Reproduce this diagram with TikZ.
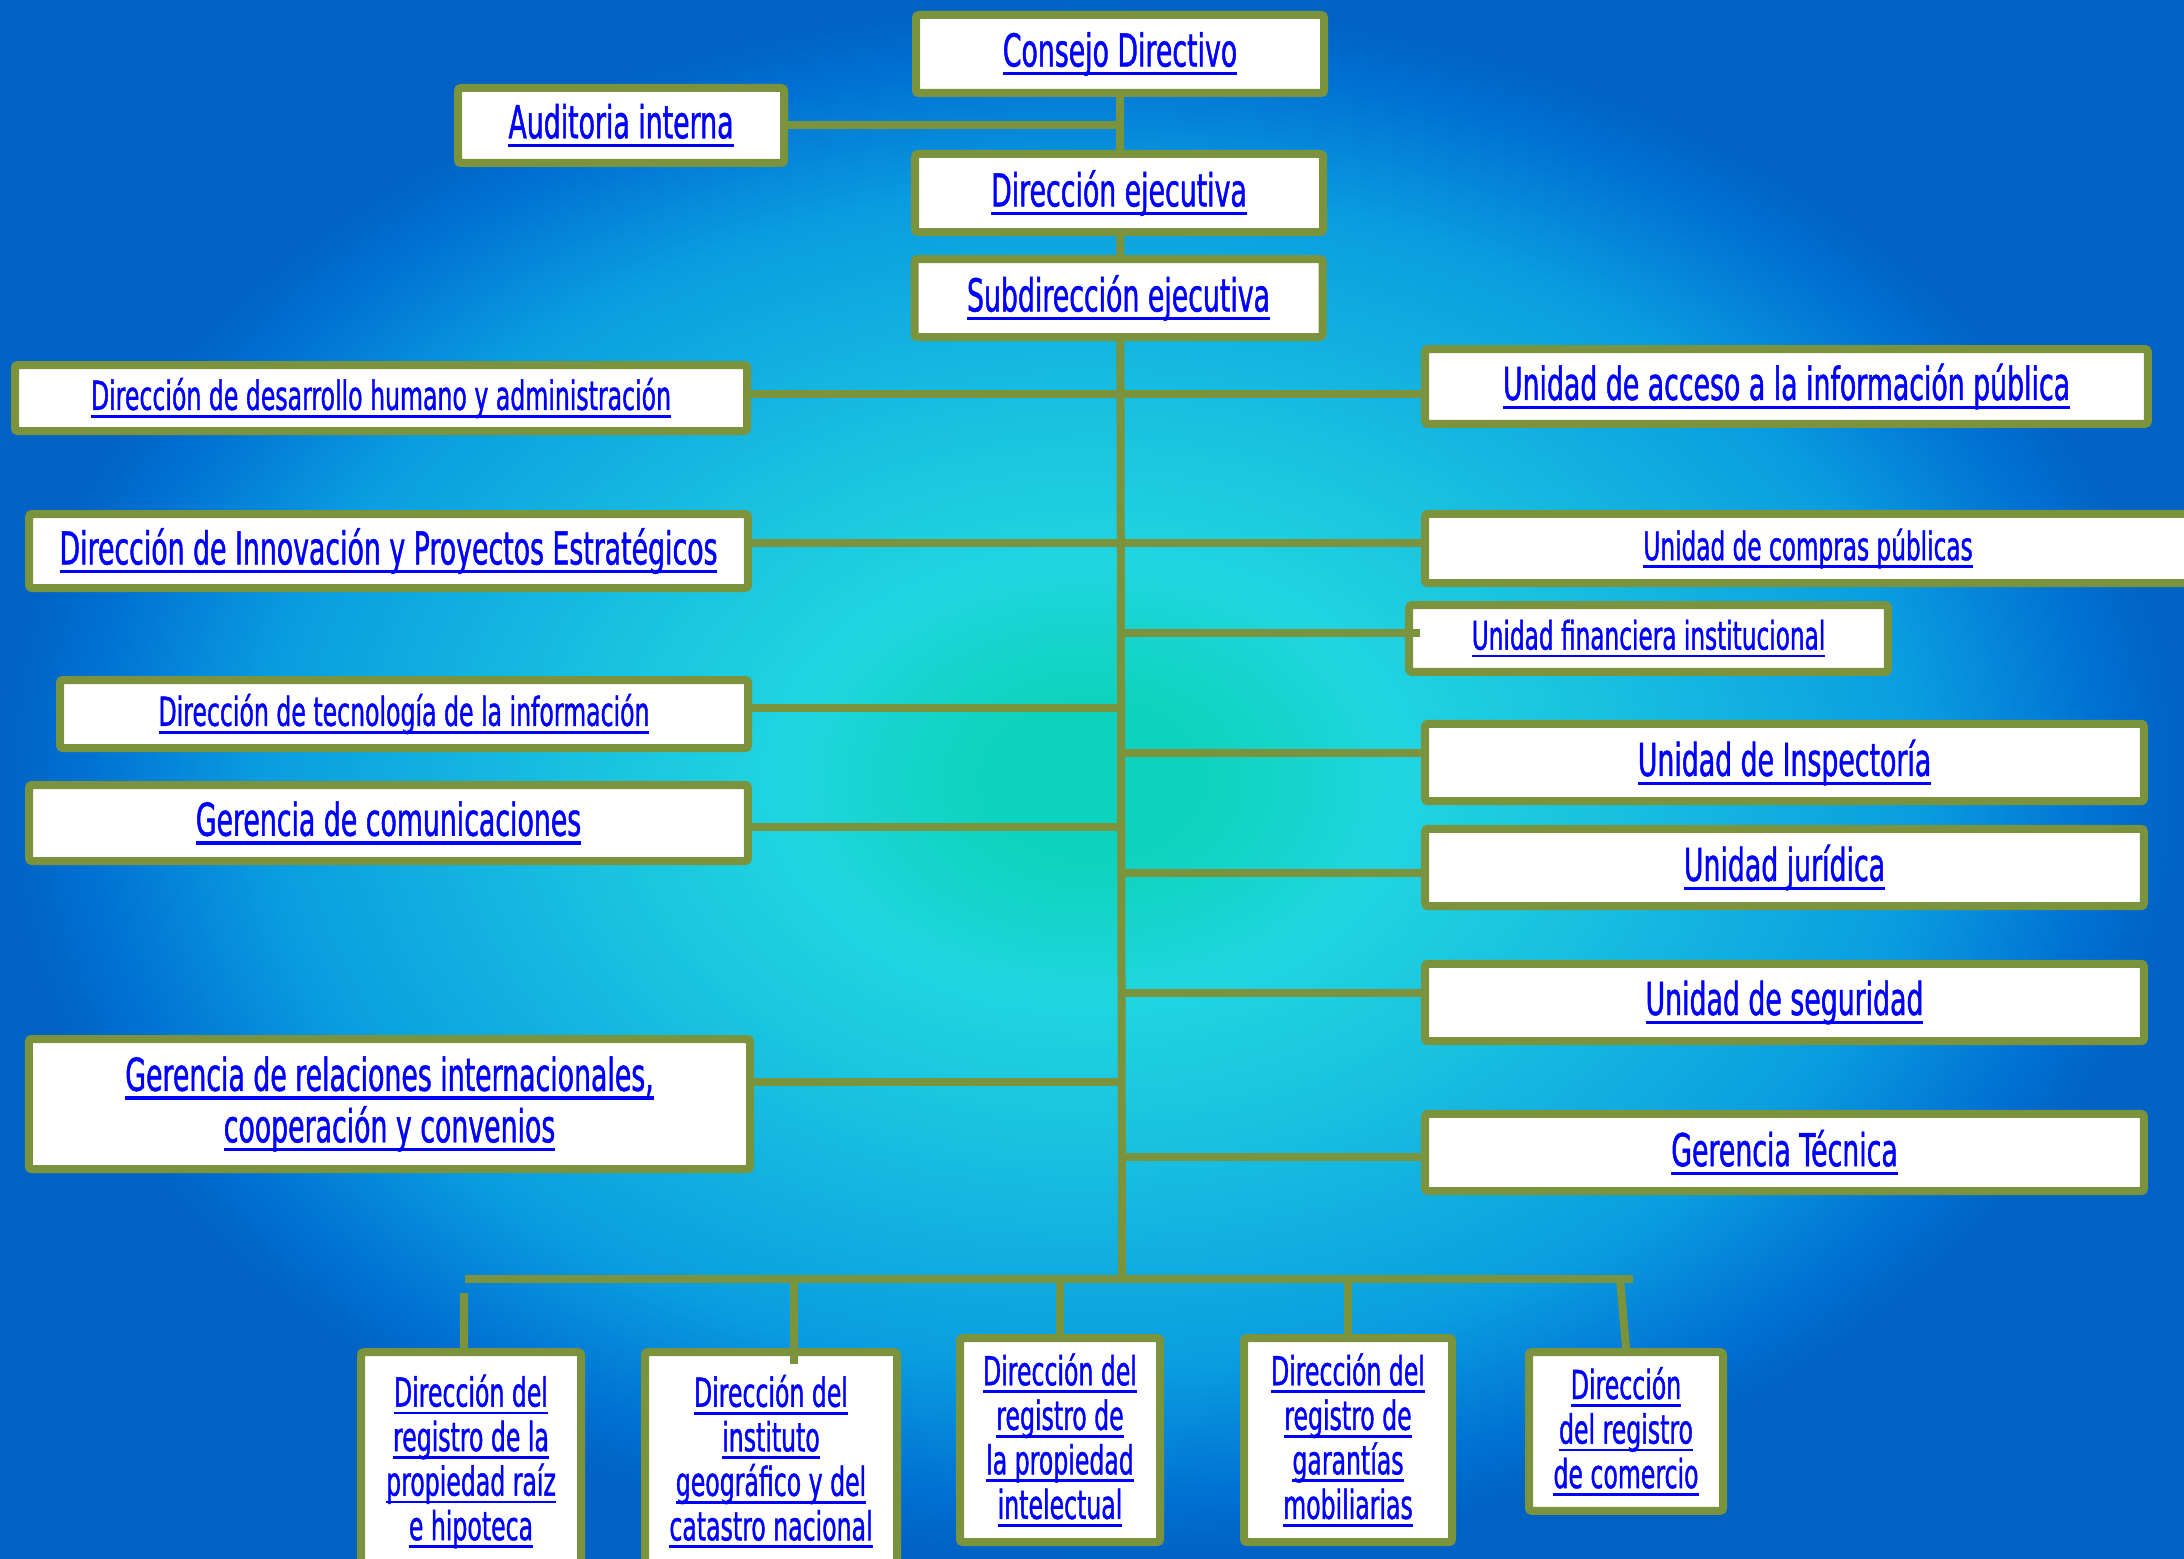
\documentclass[tikz,border=0pt]{standalone}
\usepackage{fontspec}
\setmainfont{DejaVu Sans}[FakeStretch=0.59, FakeBold=1]

\definecolor{framegreen}{HTML}{7B933D}
\definecolor{txtblue}{HTML}{0000FF}
\definecolor{bgteal}{HTML}{0ED3BC}
\definecolor{bgcyan}{HTML}{20D5E0}
\definecolor{bglight}{HTML}{18C0E0}
\definecolor{bgmid}{HTML}{0A9CE0}
\definecolor{bgblue}{HTML}{0072D2}
\definecolor{bgdeep}{HTML}{0062C4}

\pgfdeclareradialshading{orgbg}{\pgfpoint{0bp}{0bp}}{color(0bp)=(bgteal); color(2.5bp)=(bgteal); color(7bp)=(bgcyan); color(12bp)=(bglight); color(19bp)=(bgmid); color(23bp)=(bgblue); color(25bp)=(bgdeep); color(50bp)=(bgdeep)}

\pgfdeclarelayer{back}
\pgfdeclarelayer{lines}
\pgfsetlayers{back,lines,main}

% underlined link text
\newcommand{\lnk}[1]{\leavevmode\setbox0\hbox{#1}\rlap{\rule[-0.36ex]{\wd0}{0.13ex}}\box0}

\tikzset{every picture/.style={line width=0.75pt}}
\tikzset{
  unit/.style={draw=framegreen, fill=white, line width=6pt, rounded corners=2pt,
    inner sep=0pt, text=txtblue, align=center},
  conn/.style={draw=framegreen, line width=6pt},
  t34/.style={font=\fontsize{34}{38.6}\selectfont},
  t30/.style={font=\fontsize{30}{33.4}\selectfont},
  t29/.style={font=\fontsize{29.5}{33}\selectfont}
}

\begin{document}
\begin{tikzpicture}[x=0.75pt,y=0.75pt,yscale=-1,xscale=1]
\useasboundingbox (0,0) rectangle (2184,1559);

% Top boxes
\node[unit, t34, minimum width=306pt, minimum height=58.5pt] (consejo) at (1120,54) {\lnk{Consejo Directivo}};
\node[unit, t34, minimum width=244.5pt, minimum height=56.25pt] (auditoria) at (621,125.5) {\lnk{Auditoria interna}};
\node[unit, t34, minimum width=306pt, minimum height=58.5pt] (direjec) at (1119,193) {\lnk{Dirección ejecutiva}};
\node[unit, t34, minimum width=306pt, minimum height=58.5pt] (subdir) at (1118.5,298) {\lnk{Subdirección ejecutiva}};

% Left column
\node[unit, t30, minimum width=549pt, minimum height=49.5pt] (desarrollo) at (381,398) {\lnk{Dirección de desarrollo humano y administración}};
\node[unit, t34, minimum width=539pt, minimum height=55.5pt] (innovacion) at (388.5,551) {\lnk{Dirección de Innovación y Proyectos Estratégicos}};
\node[unit, t30, minimum width=516pt, minimum height=51pt] (tecnologia) at (404,714) {\lnk{Dirección de tecnología de la información}};
\node[unit, t34, minimum width=539pt, minimum height=57pt] (comunicaciones) at (388.5,823) {\lnk{Gerencia de comunicaciones}};
\node[unit, t34, minimum width=541pt, minimum height=97.5pt] (relaciones) at (389.5,1104) {\lnk{Gerencia de relaciones internacionales,}\\ \lnk{cooperación y convenios}};

% Right column
\node[unit, t34, minimum width=542pt, minimum height=56pt] (acceso) at (1786.5,386.5) {\lnk{Unidad de acceso a la información pública}};
\node[unit, t29, minimum width=574.5pt, minimum height=52pt] (compras) at (1808,548.5) {\lnk{Unidad de compras públicas}};
\node[unit, t29, minimum width=359pt, minimum height=50pt] (financiera) at (1648.5,638.5) {\lnk{Unidad financiera institucional}};
\node[unit, t34, minimum width=539pt, minimum height=58pt] (inspectoria) at (1784.5,762.5) {\lnk{Unidad de Inspectoría}};
\node[unit, t34, minimum width=539pt, minimum height=58pt] (juridica) at (1784.5,867.5) {\lnk{Unidad jurídica}};
\node[unit, t34, minimum width=539pt, minimum height=58pt] (seguridad) at (1784.5,1002.5) {\lnk{Unidad de seguridad}};
\node[unit, t34, minimum width=539pt, minimum height=58pt] (tecnica) at (1784.5,1152.5) {\lnk{Gerencia Técnica}};

% Bottom row
\node[unit, t30, minimum width=165pt, minimum height=164pt] (raiz) at (471,1461.5) {\lnk{Dirección del}\\ \lnk{registro de la}\\ \lnk{propiedad raíz}\\ \lnk{e hipoteca}};
\node[unit, t30, minimum width=189pt, minimum height=164pt] (instituto) at (771,1461.5) {\lnk{Dirección del}\\ \lnk{instituto}\\ \lnk{geográfico y del}\\ \lnk{catastro nacional}};
\node[unit, t30, minimum width=150pt, minimum height=153pt] (intelectual) at (1060,1440) {\lnk{Dirección del}\\ \lnk{registro de}\\ \lnk{la propiedad}\\ \lnk{intelectual}};
\node[unit, t30, minimum width=156pt, minimum height=153pt] (garantias) at (1348,1440) {\lnk{Dirección del}\\ \lnk{registro de}\\ \lnk{garantías}\\ \lnk{mobiliarias}};
\node[unit, t30, minimum width=145.5pt, minimum height=119pt] (comercio) at (1626,1431.5) {\lnk{Dirección}\\ \lnk{del registro}\\ \lnk{de comercio}};

\coordinate (hub) at (1122,1279);
\coordinate (barL) at (465,1279);
\coordinate (barR) at (1633,1279);
\coordinate (gap) at (464,1293);

\begin{pgfonlayer}{lines}
% trunk and bar
\draw[conn] (consejo.south) -- (hub);
\draw[conn] (barL) -- (barR);
\draw[conn] (auditoria.east) -- (auditoria.east -| consejo.south);
\draw[conn] ([yshift=-3pt]desarrollo.east) -- ([yshift=-3pt]desarrollo.east -| acceso.west);
\draw[conn] ([yshift=-6pt]innovacion.east) -- ([yshift=-6pt]innovacion.east -| compras.west);
\draw[conn] ([yshift=-4.5pt]tecnologia.east) -- ([yshift=-4.5pt]tecnologia.east -| consejo.south);
\draw[conn] ([yshift=3pt]comunicaciones.east) -- ([yshift=3pt]comunicaciones.east -| consejo.south);
\draw[conn] ([yshift=-16.5pt]relaciones.east) -- ([yshift=-16.5pt]relaciones.east -| consejo.south);
\draw[conn] ([yshift=-7pt]inspectoria.west) -- ([yshift=-7pt]inspectoria.west -| consejo.south);
\draw[conn] ([yshift=4pt]juridica.west) -- ([yshift=4pt]juridica.west -| consejo.south);
\draw[conn] ([yshift=-7pt]seguridad.west) -- ([yshift=-7pt]seguridad.west -| consejo.south);
\draw[conn] ([yshift=3.4pt]tecnica.west) -- ([yshift=3.4pt]tecnica.west -| consejo.south);
% drops
\draw[conn] (gap) -- (gap |- raiz.north);
\draw[conn] (intelectual.north) -- (intelectual.north |- barL);
\draw[conn] (garantias.north) -- (garantias.north |- barL);
\draw[conn] (comercio.north) -- ([xshift=-4.5pt]comercio.north |- barR);
\end{pgfonlayer}

% stubs over the boxes
\coordinate (finstub) at ([xshift=11pt,yshift=-4pt]financiera.west);
\draw[conn] (finstub -| consejo.south) -- (finstub);
\coordinate (instdrop) at ([xshift=17pt,yshift=12pt]instituto.north);
\draw[conn] (instdrop |- barL) -- (instdrop);

\begin{pgfonlayer}{back}
\fill[shading=orgbg] (0,0) rectangle (2184,1559);
\end{pgfonlayer}

\end{tikzpicture}
\end{document}
